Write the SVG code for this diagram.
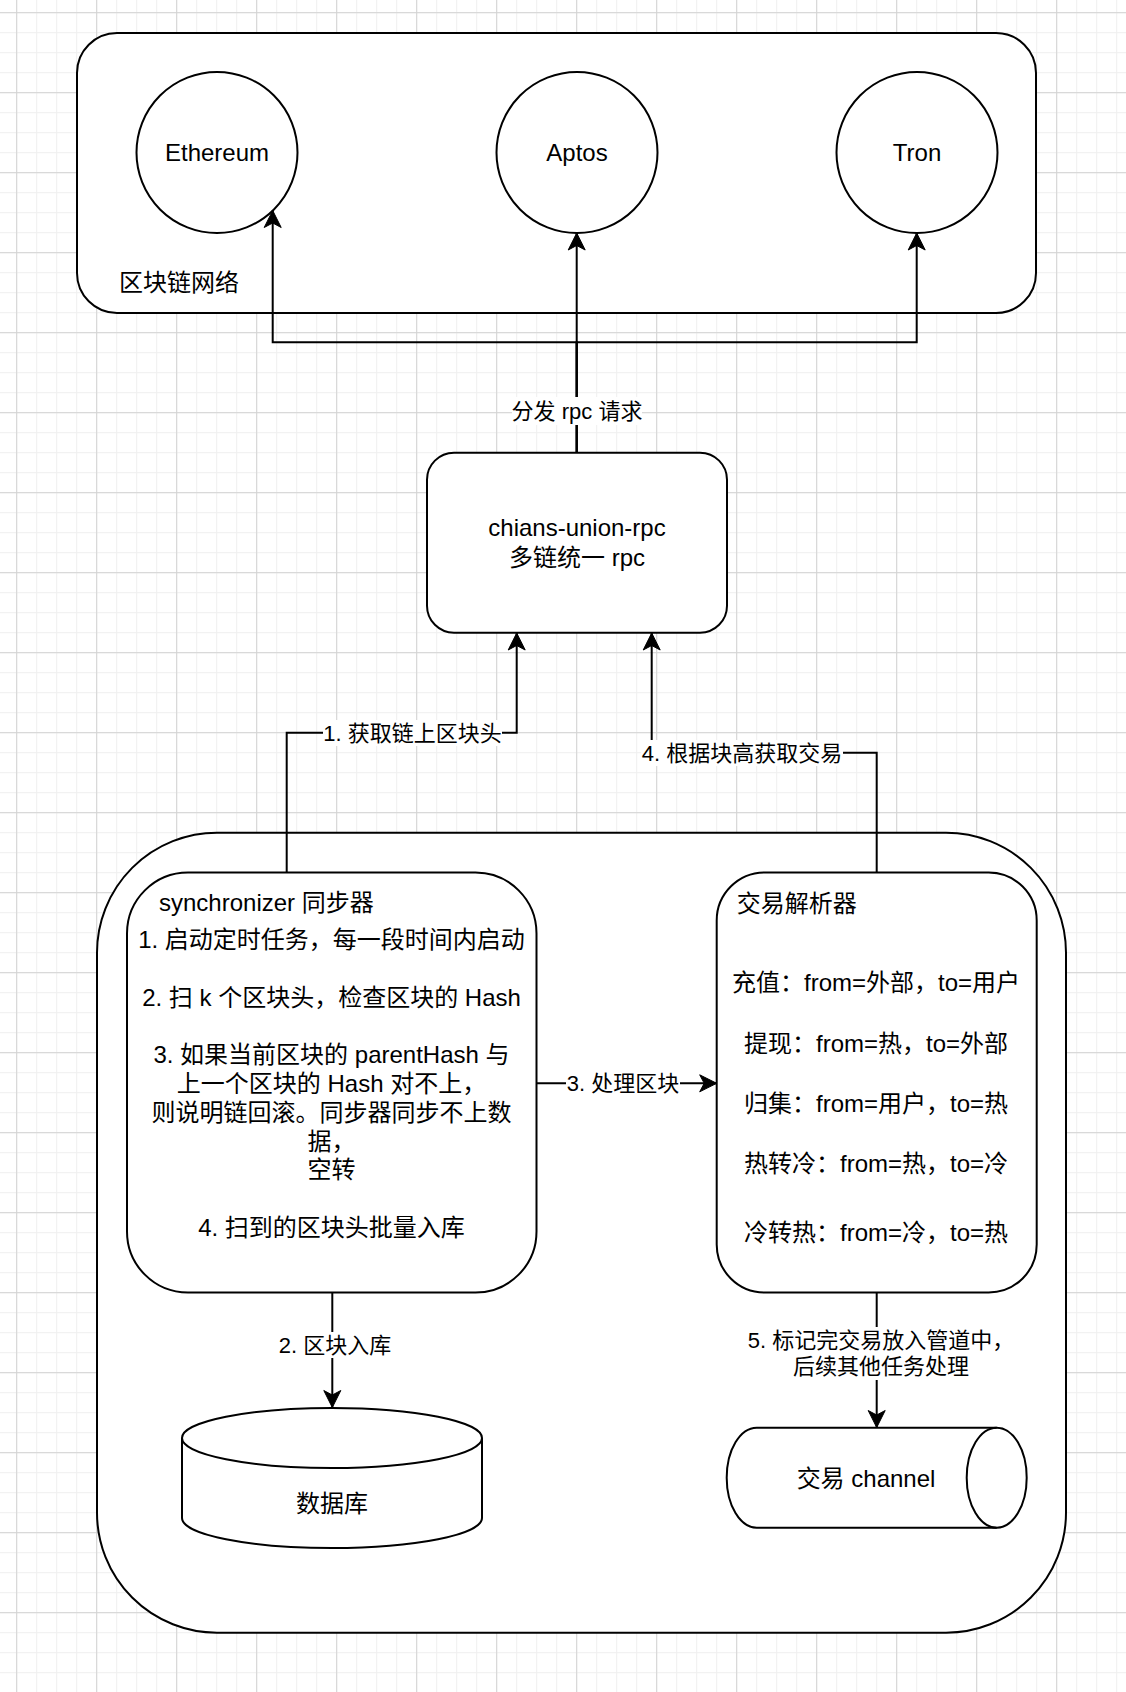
<svg xmlns="http://www.w3.org/2000/svg" width="1126" height="1692" viewBox="0 0 1126 1692">
<style>
.shape{fill:#fff;stroke:#000;stroke-width:2}
.line{fill:none;stroke:#000;stroke-width:2}
.edge{fill:none;stroke:#000;stroke-width:2;marker-end:url(#arr)}
.bg{fill:#fff;stroke:none}
text{font-family:"Liberation Sans","Noto Sans CJK SC",sans-serif;font-size:24px;fill:#000}
.lbl{font-size:22px}
.c{text-anchor:middle}
</style>
<defs>
<pattern id="minor" x="16.2" y="12.2" width="20" height="20" patternUnits="userSpaceOnUse"><path d="M0.5 0 V20 M0 0.5 H20" stroke="#efefef" stroke-width="1" fill="none"/></pattern>
<pattern id="major" x="16.2" y="12.2" width="80" height="80" patternUnits="userSpaceOnUse"><path d="M0.5 0 V80 M0 0.5 H80" stroke="#d3d3d3" stroke-width="1" fill="none"/></pattern>
<marker id="arr" markerUnits="userSpaceOnUse" markerWidth="24" markerHeight="24" viewBox="-20 -12 24 24" refX="0" refY="0" orient="auto"><path d="M0 0 L-17 -8.5 L-12.5 0 L-17 8.5 Z" fill="#000" stroke="#000" stroke-width="1"/></marker>
</defs>
<rect width="1126" height="1692" fill="#fff"/>
<rect width="1126" height="1692" fill="url(#minor)"/>
<rect width="1126" height="1692" fill="url(#major)"/>

<g id="network">
<rect class="shape" x="77" y="33" width="959" height="280" rx="40"/>
<text x="119" y="290.5">区块链网络</text>
</g>
<g id="ethereum">
<circle class="shape" cx="217" cy="152.5" r="80.5"/>
<text class="c" x="217" y="161">Ethereum</text>
</g>
<g id="aptos">
<circle class="shape" cx="577" cy="152.5" r="80.5"/>
<text class="c" x="577" y="161">Aptos</text>
</g>
<g id="tron">
<circle class="shape" cx="917" cy="152.5" r="80.5"/>
<text class="c" x="917" y="161">Tron</text>
</g>
<g id="rpc">
<rect class="shape" x="427" y="452.7" width="300" height="180" rx="27"/>
<text class="c" x="577" y="535.5">chians-union-rpc</text>
<text class="c" x="577" y="565.5">多链统一 rpc</text>
</g>
<g id="service">
<rect class="shape" x="97" y="832.7" width="969" height="800" rx="120"/>
</g>
<g id="synchronizer">
<rect class="shape" x="127" y="872.5" width="409.5" height="420" rx="61"/>
<text x="159" y="911">synchronizer 同步器</text>
<text class="c" x="331.5" y="948">1. 启动定时任务，每一段时间内启动</text>
<text class="c" x="331.5" y="1005.6">2. 扫 k 个区块头，检查区块的 Hash</text>
<text class="c" x="331.5" y="1063.2">3. 如果当前区块的 parentHash 与</text>
<text class="c" x="331.5" y="1092">上一个区块的 Hash 对不上，</text>
<text class="c" x="331.5" y="1120.8">则说明链回滚。同步器同步不上数</text>
<text class="c" x="331.5" y="1149.6">据，</text>
<text class="c" x="331.5" y="1178.4">空转</text>
<text class="c" x="331.5" y="1236">4. 扫到的区块头批量入库</text>
</g>
<g id="parser">
<rect class="shape" x="716.7" y="872.5" width="320" height="420" rx="48"/>
<text x="736.7" y="911.5">交易解析器</text>
<text class="c" x="876" y="991">充值：from=外部，to=用户</text>
<text class="c" x="876" y="1051.5">提现：from=热，to=外部</text>
<text class="c" x="876" y="1111.5">归集：from=用户，to=热</text>
<text class="c" x="876" y="1171.5">热转冷：from=热，to=冷</text>
<text class="c" x="876" y="1241">冷转热：from=冷，to=热</text>
</g>
<g id="database">
<path class="shape" d="M182,1438 A150,30 0 0 1 482,1438 V1518 A150,30 0 0 1 182,1518 Z"/>
<path class="line" d="M182,1438 A150,30 0 0 0 482,1438"/>
<text class="c" x="332" y="1511.5">数据库</text>
</g>
<g id="channel">
<path class="shape" d="M756.7,1427.7 H996.7 A30,50 0 0 1 996.7,1527.7 H756.7 A30,50 0 0 1 756.7,1427.7 Z"/>
<path class="line" d="M996.7,1427.7 A30,50 0 0 0 996.7,1527.7"/>
<text class="c" x="866" y="1487">交易 channel</text>
</g>

<g id="connectors">
<path class="edge" d="M576.7,452.7 V342.3 H272.7 V210.5"/>
<path class="edge" d="M576.7,452.7 V233"/>
<path class="edge" d="M576.7,452.7 V342.3 H916.7 V233"/>
<rect class="bg" x="512" y="397" width="130" height="28"/>
<text class="lbl c" x="577" y="418.7">分发 rpc 请求</text>

<path class="edge" d="M286.7,872.5 V732.7 H516.7 V633"/>
<rect class="bg" x="323" y="720" width="179" height="26"/>
<text class="lbl c" x="412.5" y="740.5">1. 获取链上区块头</text>

<path class="edge" d="M876.7,872.5 V752.7 H651.7 V633"/>
<rect class="bg" x="641" y="740" width="202" height="26"/>
<text class="lbl c" x="742" y="760.5">4. 根据块高获取交易</text>

<path class="edge" d="M536.5,1083.3 H716.7"/>
<rect class="bg" x="566" y="1070" width="114" height="26"/>
<text class="lbl c" x="623" y="1091">3. 处理区块</text>

<path class="edge" d="M332.3,1292.7 V1407.5"/>
<rect class="bg" x="279" y="1332" width="112" height="26"/>
<text class="lbl c" x="335" y="1352.5">2. 区块入库</text>

<path class="edge" d="M876.7,1292.7 V1427.5"/>
<rect class="bg" x="745" y="1327" width="272" height="53"/>
<text class="lbl c" x="881" y="1347.5">5. 标记完交易放入管道中，</text>
<text class="lbl c" x="881" y="1374">后续其他任务处理</text>
</g>
</svg>
